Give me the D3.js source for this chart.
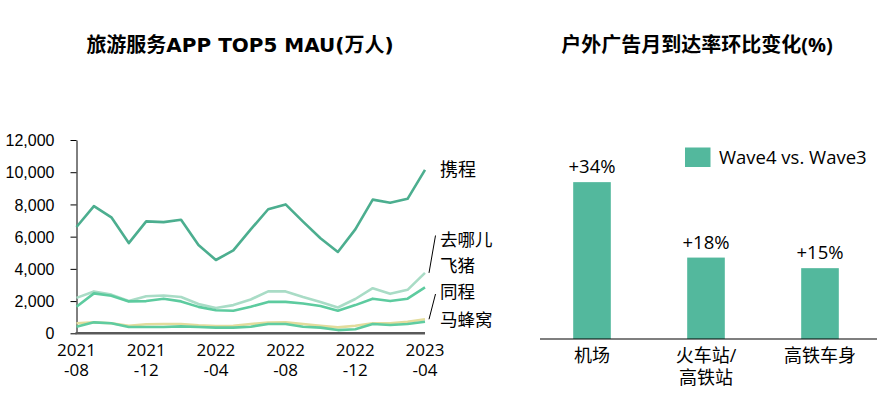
<!DOCTYPE html>
<html>
<head>
<meta charset="utf-8">
<script src="https://cdn.jsdelivr.net/npm/d3@7"></script>
<style>
  body { margin: 0; background: #fff; }
  svg { display: block; font-family: "Open Sans", "Noto Sans CJK SC", sans-serif; }
  .title { font-size: 20px; font-weight: bold; fill: #000; }
  .tick text { font-size: 16px; fill: #000; }
</style>
</head>
<body>
<div id="chart"></div>
<script>
// Left: travel app MAU, 2021-08 .. 2023-04 (monthly)
const months = d3.range(21);
const tickLabels = [["2021", "-08"], ["2021", "-12"], ["2022", "-04"], ["2022", "-08"], ["2022", "-12"], ["2023", "-04"]];
const yTicks = [0, 2000, 4000, 6000, 8000, 10000, 12000];

const ctrip   = [6600, 7900, 7200, 5600, 6950, 6900, 7050, 5480, 4550, 5150, 6450, 7700, 8000, 6930, 5900, 5050, 6450, 8300, 8100, 8350, 10150];
const qunar   = [2200, 2600, 2400, 2000, 2300, 2350, 2250, 1820, 1570, 1750, 2100, 2600, 2600, 2250, 1950, 1600, 2130, 2800, 2450, 2700, 3750];
const fliggy  = [1650, 2480, 2330, 1980, 2000, 2150, 1980, 1640, 1430, 1400, 1650, 1950, 1950, 1850, 1700, 1400, 1750, 2150, 2000, 2150, 2850];
const ly      = [620, 680, 620, 470, 560, 580, 580, 500, 450, 470, 580, 660, 680, 580, 470, 370, 470, 620, 620, 720, 870];
const mfw     = [410, 680, 620, 390, 390, 390, 430, 390, 350, 350, 410, 580, 580, 410, 350, 200, 250, 580, 520, 580, 720];

const series = [
  { name: "去哪儿", values: qunar, color: "#a9dcc6" },
  { name: "飞猪", values: fliggy, color: "#5dcb9f" },
  { name: "同程", values: ly, color: "#e2dc9c" },
  { name: "马蜂窝", values: mfw, color: "#5fcca0" },
  { name: "携程", values: ctrip, color: "#4cae8f" }
];

// Right: outdoor ad monthly reach change (%)
const places = [["机场"], ["火车站/", "高铁站"], ["高铁车身"]];
const changes = [34.1, 17.7, 15.4];
const changeLabels = ["+34%", "+18%", "+15%"];
const legendLabel = "Wave4 vs. Wave3";

const svg = d3.select("#chart").append("svg")
  .attr("width", 884)
  .attr("height", 398);

// ---- left chart ----
const x = d3.scaleLinear().domain([0, 20]).range([76.5, 425]);
const y = d3.scaleLinear().domain([0, 12000]).range([333.3, 140]);

svg.append("text")
  .attr("class", "title")
  .attr("x", 240)
  .attr("y", 52)
  .attr("text-anchor", "middle")
  .style("font-family", '"DejaVu Sans", "Noto Sans CJK SC", sans-serif')
  .text("旅游服务APP TOP5 MAU(万人)");

const yAxis = svg.append("g")
  .attr("transform", `translate(${x(0)},0)`)
  .call(d3.axisLeft(y).tickValues(yTicks).tickFormat(d3.format(",")).tickSize(6).tickSizeOuter(0).tickPadding(16));
yAxis.select(".domain").attr("stroke", "#000");
yAxis.selectAll(".tick line").attr("stroke", "#000");
yAxis.selectAll(".tick text").attr("dy", "0.35em");

const line = d3.line()
  .x((d, i) => x(i))
  .y(d => y(d));

svg.append("g")
  .selectAll("path")
  .data(series)
  .join("path")
  .attr("d", d => line(d.values))
  .attr("fill", "none")
  .attr("stroke", d => d.color)
  .attr("stroke-width", 2.6)
  .attr("stroke-linejoin", "round");

// x axis
svg.append("line")
  .attr("x1", x(0) - 1).attr("x2", x(20))
  .attr("y1", y(0)).attr("y2", y(0))
  .attr("stroke", "#595959")
  .attr("stroke-width", 2.5);

const xt = svg.append("g").selectAll("text")
  .data(tickLabels)
  .join("text")
  .attr("text-anchor", "middle")
  .attr("font-size", 17)
  .attr("x", (d, i) => x(i * 4));
xt.append("tspan").attr("y", 356).text(d => d[0]);
xt.append("tspan").attr("x", (d, i) => x(i * 4)).attr("y", 376).text(d => d[1]);

// series labels
const last = 20;
svg.append("text")
  .attr("x", x(last) + 15)
  .attr("y", y(ctrip[last]) + 6.5)
  .attr("font-size", 18)
  .text("携程");

const lowLabels = [["去哪儿", 239], ["飞猪", 265], ["同程", 291], ["马蜂窝", 319]];
svg.append("g").selectAll("text")
  .data(lowLabels)
  .join("text")
  .attr("x", 440)
  .attr("y", d => d[1] + 6.5)
  .attr("font-size", 17.5)
  .text(d => d[0]);

// leader lines
const leaders = [[235.5, qunar[last]], [294, ly[last]]];
svg.append("g").selectAll("line")
  .data(leaders)
  .join("line")
  .attr("x1", 435.5).attr("y1", d => d[0])
  .attr("x2", x(last) + 4).attr("y2", d => y(d[1]))
  .attr("stroke", "#000")
  .attr("stroke-width", 1);

// ---- right chart ----
svg.append("text")
  .attr("class", "title")
  .attr("x", 697)
  .attr("y", 52)
  .attr("text-anchor", "middle")
  .text("户外广告月到达率环比变化(%)");

const xb = d3.scaleBand().domain(d3.range(places.length)).range([535, 877]).paddingInner(0.67).paddingOuter(0.335);
const yb = d3.scaleLinear().domain([0, 40]).range([339, 339 - 184]);
const barColor = "#53b89d";

svg.append("g").selectAll("rect")
  .data(changes)
  .join("rect")
  .attr("x", (d, i) => xb(i))
  .attr("width", xb.bandwidth())
  .attr("y", d => yb(d))
  .attr("height", d => yb(0) - yb(d))
  .attr("fill", barColor);

svg.append("g").selectAll("text")
  .data(changes)
  .join("text")
  .attr("x", (d, i) => xb(i) + xb.bandwidth() / 2)
  .attr("y", d => yb(d) - 9)
  .attr("text-anchor", "middle")
  .attr("font-size", 18.5)
  .text((d, i) => changeLabels[i]);

svg.append("line")
  .attr("x1", 540).attr("x2", 877)
  .attr("y1", yb(0)).attr("y2", yb(0))
  .attr("stroke", "#000")
  .attr("stroke-width", 1.2);

const cat = svg.append("g").selectAll("text")
  .data(places)
  .join("text")
  .attr("text-anchor", "middle")
  .attr("font-size", 18);
cat.each(function(d, i) {
  const t = d3.select(this);
  d.forEach((s, j) => {
    t.append("tspan")
      .attr("x", xb(i) + xb.bandwidth() / 2)
      .attr("y", 362 + j * 21.5)
      .text(s);
  });
});

// legend
svg.append("rect")
  .attr("x", 685).attr("y", 147.5)
  .attr("width", 25.5).attr("height", 19.5)
  .attr("fill", barColor);
svg.append("text")
  .attr("x", 719).attr("y", 163.5)
  .attr("font-size", 18.5)
  .text(legendLabel);
</script>
</body>
</html>
